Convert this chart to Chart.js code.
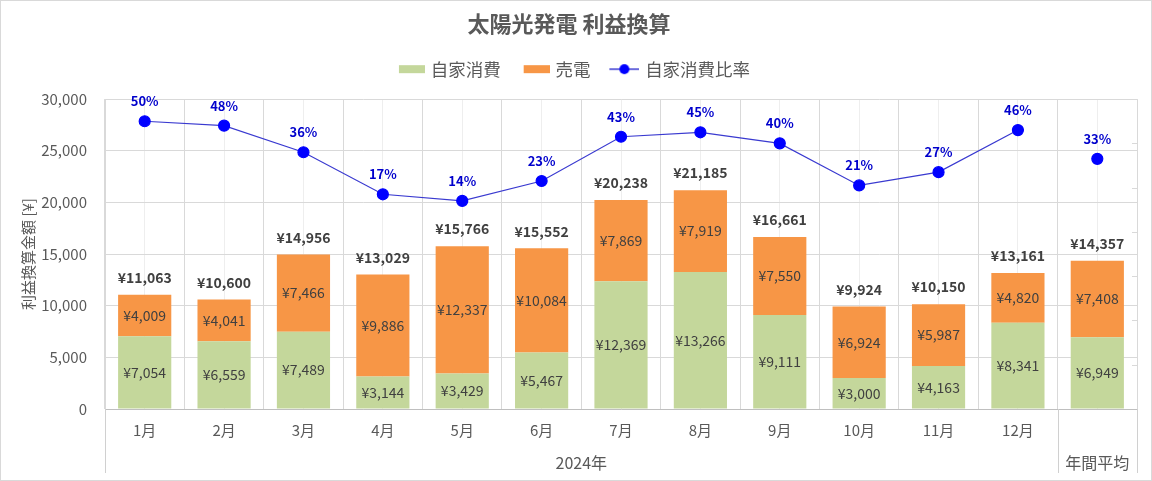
<!DOCTYPE html>
<html>
<head>
<meta charset="utf-8">
<script src="https://cdn.jsdelivr.net/npm/chart.js@4"></script>
<style>
  html, body { margin: 0; padding: 0; background: #fff; }
  #wrap { position: relative; width: 1152px; height: 481px; box-sizing: border-box; border: 1px solid #d9d9d9; }
  canvas { display: block; }
</style>
</head>
<body>
<div id="wrap"><canvas id="c" width="1150" height="479"></canvas></div>
<script>
const categories = ['1月','2月','3月','4月','5月','6月','7月','8月','9月','10月','11月','12月','年間平均'];
const groupLabels = ['2024年', '年間平均'];
const selfUse = [7054, 6559, 7489, 3144, 3429, 5467, 12369, 13266, 9111, 3000, 4163, 8341, 6949];
const soldPower = [4009, 4041, 7466, 9886, 12337, 10084, 7869, 7919, 7550, 6924, 5987, 4820, 7408];
const totals = [11063, 10600, 14956, 13029, 15766, 15552, 20238, 21185, 16661, 9924, 10150, 13161, 14357];
const selfRatio = [50, 48, 36, 17, 14, 23, 43, 45, 40, 21, 27, 46, 33];
const yTicks = { min: 0, max: 30000, step: 5000 };
const y2Ticks = { min: -80, max: 60, step: 20 };

const FONT = "'Noto Sans CJK JP', 'Noto Sans', sans-serif";
const GREEN = '#c4d79b';
const ORANGE = '#f79646';
const BLUE = '#0000ff';
const TEXT = '#595959';

// legend icons: 40px wide canvases, content right-aligned (sits close to the text)
function boxImg(color) {
  const c = document.createElement('canvas');
  c.width = 40; c.height = 10;
  const x = c.getContext('2d');
  x.fillStyle = color; x.fillRect(14, 1, 26, 8);
  return c;
}
function lineImg() {
  const c = document.createElement('canvas');
  c.width = 40; c.height = 12;
  const x = c.getContext('2d');
  x.strokeStyle = '#3a3ad0'; x.lineWidth = 1.5;
  x.beginPath(); x.moveTo(10, 6); x.lineTo(40, 6); x.stroke();
  x.fillStyle = BLUE; x.beginPath(); x.arc(25, 6, 5, 0, Math.PI * 2); x.fill();
  return c;
}
const legendImgs = [boxImg(GREEN), boxImg(ORANGE), lineImg()];

const yen = v => '¥' + v.toLocaleString('en-US');

const extras = {
  id: 'extras',
  afterDatasetsDraw(chart) {
    const ctx = chart.ctx, x = chart.scales.x, a = chart.chartArea, y2 = chart.scales.y2;
    ctx.save();
    ctx.textAlign = 'center'; ctx.textBaseline = 'middle';
    // segment labels
    [0, 1].forEach(di => {
      const meta = chart.getDatasetMeta(di);
      const vals = chart.data.datasets[di].data;
      meta.data.forEach((el, i) => {
        ctx.font = '14px ' + FONT; ctx.fillStyle = '#404040';
        ctx.fillText(yen(vals[i]), el.x, (el.y + el.base) / 2);
      });
    });
    // totals
    const topMeta = chart.getDatasetMeta(1);
    topMeta.data.forEach((el, i) => {
      ctx.font = 'bold 14px ' + FONT; ctx.fillStyle = '#404040';
      ctx.fillText(yen(totals[i]), el.x, el.y - 17);
    });
    // ratio labels
    const lm = chart.getDatasetMeta(2);
    lm.data.forEach((el, i) => {
      ctx.font = 'bold 13px ' + FONT; ctx.fillStyle = '#0000cc';
      ctx.fillText(selfRatio[i] + '%', el.x, el.y - 20);
    });
    // hidden secondary axis tick marks
    ctx.strokeStyle = '#d9d9d9'; ctx.lineWidth = 1;
    for (let v = y2Ticks.min + y2Ticks.step; v < y2Ticks.max; v += y2Ticks.step) {
      const py = Math.round(y2.getPixelForValue(v)) + 0.5;
      ctx.beginPath(); ctx.moveTo(a.right - 5, py); ctx.lineTo(a.right, py); ctx.stroke();
    }
    // second-level category axis
    const half = (x.getPixelForValue(1) - x.getPixelForValue(0)) / 2;
    const left = x.getPixelForValue(0) - half;
    const sep = x.getPixelForValue(11) + half;
    const right = x.getPixelForValue(12) + half;
    ctx.strokeStyle = '#d0d0d0';
    [left, sep, right].forEach(px => {
      const p = Math.round(px) + 0.5;
      ctx.beginPath(); ctx.moveTo(p, a.bottom); ctx.lineTo(p, a.bottom + 64); ctx.stroke();
    });
    ctx.font = '16px ' + FONT; ctx.fillStyle = TEXT;
    ctx.fillText(groupLabels[0], (left + sep) / 2, a.bottom + 54);
    ctx.fillText(groupLabels[1], (sep + right) / 2, a.bottom + 54);
    ctx.restore();
  }
};

new Chart(document.getElementById('c'), {
  data: {
    labels: categories,
    datasets: [
      { type: 'bar', label: '自家消費', data: selfUse, backgroundColor: GREEN, stack: 's', order: 1,
        barPercentage: 0.67, categoryPercentage: 1, yAxisID: 'y' },
      { type: 'bar', label: '売電', data: soldPower, backgroundColor: ORANGE, stack: 's', order: 1,
        barPercentage: 0.67, categoryPercentage: 1, yAxisID: 'y' },
      { type: 'line', label: '自家消費比率', data: selfRatio, yAxisID: 'y2', order: 0,
        borderColor: '#3a3ad0', borderWidth: 1.2, pointBackgroundColor: BLUE, pointBorderColor: BLUE,
        pointRadius: 5.5, pointHoverRadius: 5.5, tension: 0,
        segment: { borderColor: c => c.p1DataIndex === 12 ? 'rgba(0,0,0,0)' : undefined } }
    ]
  },
  options: {
    responsive: false,
    animation: false,
    devicePixelRatio: 1,
    layout: { padding: { left: 0, right: 14, top: 0, bottom: 0 } },
    plugins: {
      tooltip: { enabled: false },
      title: { display: true, text: '太陽光発電 利益換算', color: TEXT,
        font: { family: FONT, size: 22, weight: 'bold' }, padding: { top: 9, bottom: 12 } },
      legend: {
        position: 'top',
        labels: {
          usePointStyle: true, pointStyleWidth: 34, color: TEXT, padding: 12,
          font: { family: FONT, size: 17.5 },
          sort: (a, b) => a.datasetIndex - b.datasetIndex,
          generateLabels(chart) {
            const items = Chart.defaults.plugins.legend.labels.generateLabels(chart);
            items.forEach(it => { it.pointStyle = legendImgs[it.datasetIndex]; });
            return items;
          }
        }
      }
    },
    scales: {
      x: {
        type: 'category', stacked: true, offset: true,
        grid: { color: '#d9d9d9', drawTicks: false, offset: true },
        border: { color: '#bfbfbf' },
        ticks: { color: TEXT, font: { family: FONT, size: 15 }, padding: 12, maxRotation: 0, autoSkip: false,
          callback: (v, i) => i === categories.length - 1 ? '' : categories[i] },
        afterFit(s) { s.height = 71; }
      },
      x2: {
        type: 'category', position: 'top', offset: true,
        grid: { color: '#eeeeee', drawTicks: false, offset: false },
        border: { display: false },
        ticks: { display: false },
        title: { display: true, text: '', font: { size: 1 }, padding: { top: 10, bottom: 0 } }
      },
      y: {
        type: 'linear', stacked: true, min: yTicks.min, max: yTicks.max,
        grid: { color: '#d9d9d9', drawTicks: false },
        border: { display: true, color: '#d9d9d9' },
        ticks: { stepSize: yTicks.step, color: TEXT, font: { family: FONT, size: 15 }, padding: 18,
          callback: v => v.toLocaleString('en-US') },
        title: { display: true, text: '利益換算金額 [¥]', color: TEXT, font: { family: FONT, size: 15 },
          padding: { top: 18, bottom: 0 } },
        afterFit(s) { s.width = 104; }
      },
      y2: {
        type: 'linear', display: false, position: 'right', min: y2Ticks.min, max: y2Ticks.max,
        ticks: { stepSize: y2Ticks.step }
      }
    }
  },
  plugins: [extras]
});
</script>
</body>
</html>
